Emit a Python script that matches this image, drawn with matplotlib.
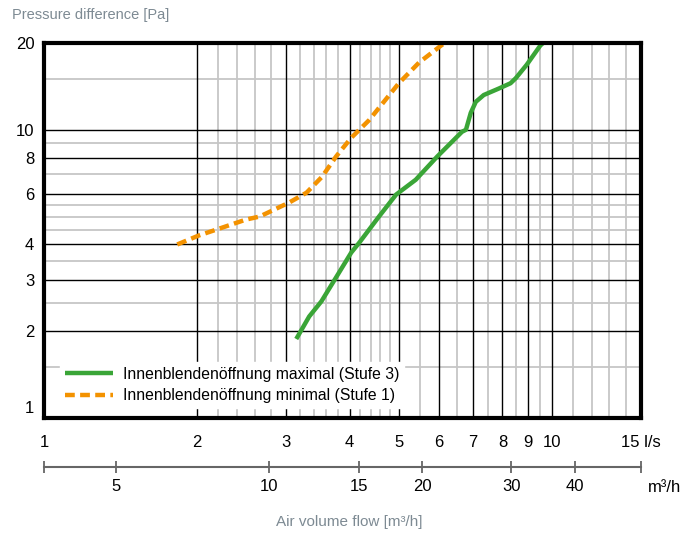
import matplotlib
matplotlib.use("Agg")
import matplotlib.pyplot as plt
from matplotlib import font_manager

# --- data ---
flow_max = [3.14, 3.33, 3.52, 3.76, 4.03, 4.18, 4.57, 4.94, 5.4, 5.95, 6.66, 6.78, 6.93, 7.09, 7.35, 7.87, 8.3, 8.5, 8.93, 9.5, 9.62]
dp_max = [1.88, 2.25, 2.54, 3.07, 3.75, 4.06, 5.0, 5.96, 6.71, 8.07, 9.84, 10.0, 11.45, 12.5, 13.2, 13.9, 14.5, 15.1, 16.8, 19.6, 20.0]

flow_min = [1.83, 2.02, 2.19, 2.5, 2.66, 3.04, 3.29, 3.53, 3.76, 4.03, 4.37, 5.0, 5.48, 6.08, 6.17]
dp_min = [4.0, 4.3, 4.51, 4.88, 5.0, 5.59, 6.05, 6.87, 8.07, 9.38, 10.8, 14.5, 17.1, 19.7, 20.0]

label_max = "Innenblendenöffnung maximal (Stufe 3)"
label_min = "Innenblendenöffnung minimal (Stufe 1)"

ls_ticks = [1, 2, 3, 4, 5, 6, 7, 8, 9, 10, 15]
ls_labels = ["1", "2", "3", "4", "5", "6", "7", "8", "9", "10", "15 l/s"]
x_grid_major = [2, 3, 4, 5, 6, 7, 8, 9, 10]
x_grid_minor = [2.2, 2.4, 2.6, 2.8, 3.2, 3.4, 3.6, 3.8, 4.2, 4.4, 4.6, 4.8,
                5.5, 6.5, 7.5, 8.5, 9.5, 11, 12, 13, 14]

pa_ticks = [2, 3, 4, 6, 8, 10, 20]
y_grid_major = [2, 3, 4, 6, 8, 10]
y_grid_minor = [1.5, 2.5, 3.5, 4.5, 5, 5.5, 7, 9, 15]

m3h_ticks = [5, 10, 15, 20, 30, 40]

# --- fonts ---
installed = {f.name for f in font_manager.fontManager.ttflist}
if "Liberation Sans Narrow" in installed:
    plt.rcParams["font.family"] = ["Liberation Sans Narrow", "DejaVu Sans"]
else:
    plt.rcParams["font.family"] = ["Liberation Sans", "DejaVu Sans"]

green = "#3aa537"
orange = "#f39200"
grey_text = "#7d8a93"
fs = 12

W, H = 694, 533
fig = plt.figure(figsize=(W / 100, H / 100), dpi=100)
L, R, T, B = 44, 641, 43, 418
ax = fig.add_axes([L / W, 1 - B / H, (R - L) / W, (B - T) / H])

ax.set_xscale("log")
ax.set_yscale("log")
ax.set_xlim(1, 15)
ax.set_ylim(1, 20)

for v in x_grid_minor:
    ax.axvline(v, color="#c6c6c6", lw=1.3, zorder=1)
for v in y_grid_minor:
    ax.axhline(v, color="#c6c6c6", lw=1.3, zorder=1)
for v in x_grid_major:
    ax.axvline(v, color="black", lw=1.0, zorder=1.5)
for v in y_grid_major:
    ax.axhline(v, color="black", lw=1.0, zorder=1.5)

ax.plot(flow_max, dp_max, color=green, lw=3.2, label=label_max, zorder=3,
        solid_capstyle="butt")
ax.plot(flow_min, dp_min, color=orange, lw=3.2, dashes=(2.2, 1.2),
        label=label_min, zorder=3)

ax.set_xticks(ls_ticks)
ax.set_xticklabels(ls_labels)
ax.xaxis.set_minor_locator(plt.NullLocator())
ax.set_yticks(pa_ticks)
ax.set_yticklabels([str(v) for v in pa_ticks])
ax.yaxis.set_minor_locator(plt.NullLocator())
ax.tick_params(axis="x", length=0, pad=12, labelsize=fs)
ax.tick_params(axis="y", length=0, pad=7, labelsize=fs)
ax.annotate("1", xy=(0, 1), xycoords=("axes fraction", "data"),
            xytext=(-7, 7), textcoords="offset points",
            ha="right", va="center", fontsize=fs)

for s in ax.spines.values():
    s.set_linewidth(3)
    s.set_color("black")
    s.set_zorder(5)

leg = ax.legend(loc="lower left", bbox_to_anchor=(0.027, 0.027),
                borderaxespad=0, frameon=True, fancybox=False,
                edgecolor="white", facecolor="white", framealpha=1,
                fontsize=11.3, handlelength=3.1, handletextpad=0.6,
                labelspacing=0.4, borderpad=0.3)
leg.set_zorder(4)

# secondary flow scale in m³/h
ax2 = fig.add_axes([L / W, 1 - 467 / H, (R - L) / W, 0.0001])
ax2.set_xscale("log")
ax2.set_xlim(1, 15)
ax2.set_yticks([])
for k in ["top", "left", "right"]:
    ax2.spines[k].set_visible(False)
ax2.spines["bottom"].set_color("#666666")
ax2.spines["bottom"].set_linewidth(1.5)
ax2.set_xticks([m / 3.6 for m in m3h_ticks])
ax2.set_xticklabels([str(m) for m in m3h_ticks])
ax2.set_xticks([1, 15], minor=True)
ax2.xaxis.set_minor_formatter(plt.NullFormatter())
ax2.tick_params(axis="x", which="both", direction="inout", length=9,
                width=1.3, color="#666666", pad=4, labelsize=fs)
ax2.patch.set_visible(False)

fig.text(648 / W, 1 - 488 / H, "m³/h", ha="left", va="center", fontsize=fs)
fig.text(12 / W, 1 - 15 / H, "Pressure difference [Pa]", ha="left",
         va="center", fontsize=10.5, color=grey_text)
fig.text(349 / W, 1 - 522 / H, "Air volume flow [m³/h]", ha="center",
         va="center", fontsize=11, color=grey_text)

fig.savefig("out.png", dpi=100)
